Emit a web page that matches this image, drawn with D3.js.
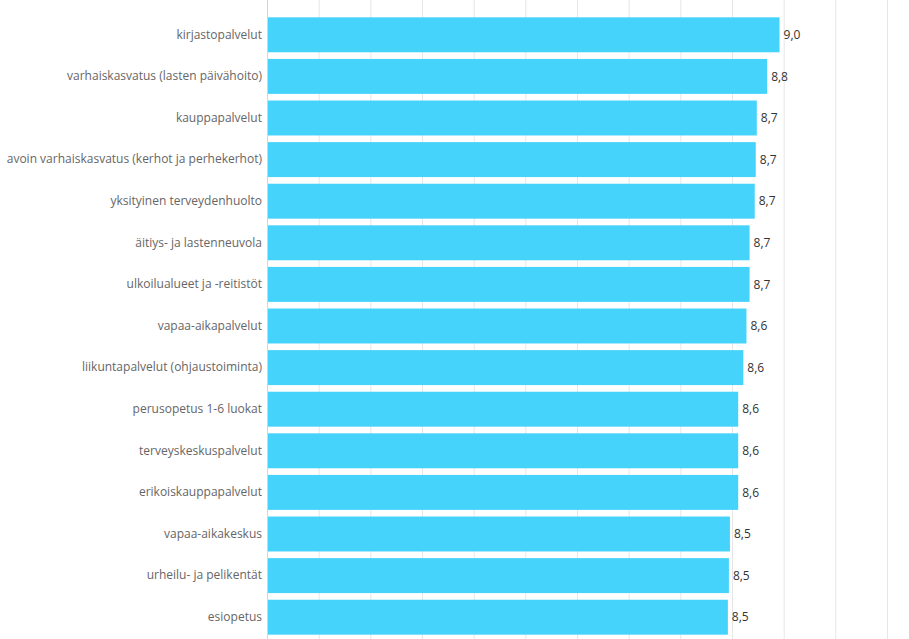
<!DOCTYPE html>
<html lang="fi">
<head>
<meta charset="utf-8">
<title>Palvelut</title>
<script src="https://d3js.org/d3.v7.min.js"></script>
<style>
  body { margin: 0; background: #fff; }
  svg text { font-family: "Open Sans", sans-serif; }
  .grid line { stroke: #e6e6e6; }
  .grid path { display: none; }
  .cat text { fill: #666; font-size: 12px; }
  .val { fill: #333; font-size: 12px; }
</style>
</head>
<body>
<svg id="chart" width="909" height="639"></svg>
<script>
// categories and values
var categories = [
  "kirjastopalvelut",
  "varhaiskasvatus (lasten päivähoito)",
  "kauppapalvelut",
  "avoin varhaiskasvatus (kerhot ja perhekerhot)",
  "yksityinen terveydenhuolto",
  "äitiys- ja lastenneuvola",
  "ulkoilualueet ja -reitistöt",
  "vapaa-aikapalvelut",
  "liikuntapalvelut (ohjaustoiminta)",
  "perusopetus 1-6 luokat",
  "terveyskeskuspalvelut",
  "erikoiskauppapalvelut",
  "vapaa-aikakeskus",
  "urheilu- ja pelikentät",
  "esiopetus"
];
var values = [8.96, 8.84, 8.74, 8.73, 8.72, 8.67, 8.67, 8.64, 8.61, 8.56, 8.56, 8.56, 8.48, 8.47, 8.46];
var xTicks = [4, 4.5, 5, 5.5, 6, 6.5, 7, 7.5, 8, 8.5, 9, 9.5, 10];

var margin = {top: 14, right: 22, bottom: 1, left: 267};
var W = 909, H = 639;

var svg = d3.select("#chart");

var x = d3.scaleLinear()
    .domain([4, 10])
    .range([margin.left, W - margin.right]);

var y = d3.scaleBand()
    .domain(categories)
    .range([margin.top, H - margin.bottom])
    .paddingInner(0.16)
    .paddingOuter(0.08);

// vertical gridlines
svg.append("g")
  .attr("class", "grid")
  .call(d3.axisBottom(x).tickValues(xTicks).tickSize(H).tickFormat(""));

// bars
svg.append("g")
  .selectAll("rect")
  .data(values)
  .join("rect")
    .attr("x", x(4))
    .attr("y", function(d, i) { return y(categories[i]); })
    .attr("width", function(d) { return x(d) - x(4); })
    .attr("height", y.bandwidth())
    .attr("fill", "#45d3fc");

// category axis
var yAxis = svg.append("g")
  .attr("class", "cat")
  .attr("transform", "translate(" + margin.left + ",0)")
  .call(d3.axisLeft(y).tickSize(0).tickPadding(5));
yAxis.select(".domain").attr("stroke", "#ccd6eb").attr("d", "M0.5,0V" + H);

// value labels
var fmt = function(d) { return d3.format(".1f")(d).replace(".", ","); };
svg.append("g")
  .selectAll("text")
  .data(values)
  .join("text")
    .attr("class", "val")
    .attr("x", function(d) { return x(d) + 4; })
    .attr("y", function(d, i) { return y(categories[i]) + y.bandwidth() / 2; })
    .attr("dy", "0.35em")
    .text(fmt);
</script>
</body>
</html>
